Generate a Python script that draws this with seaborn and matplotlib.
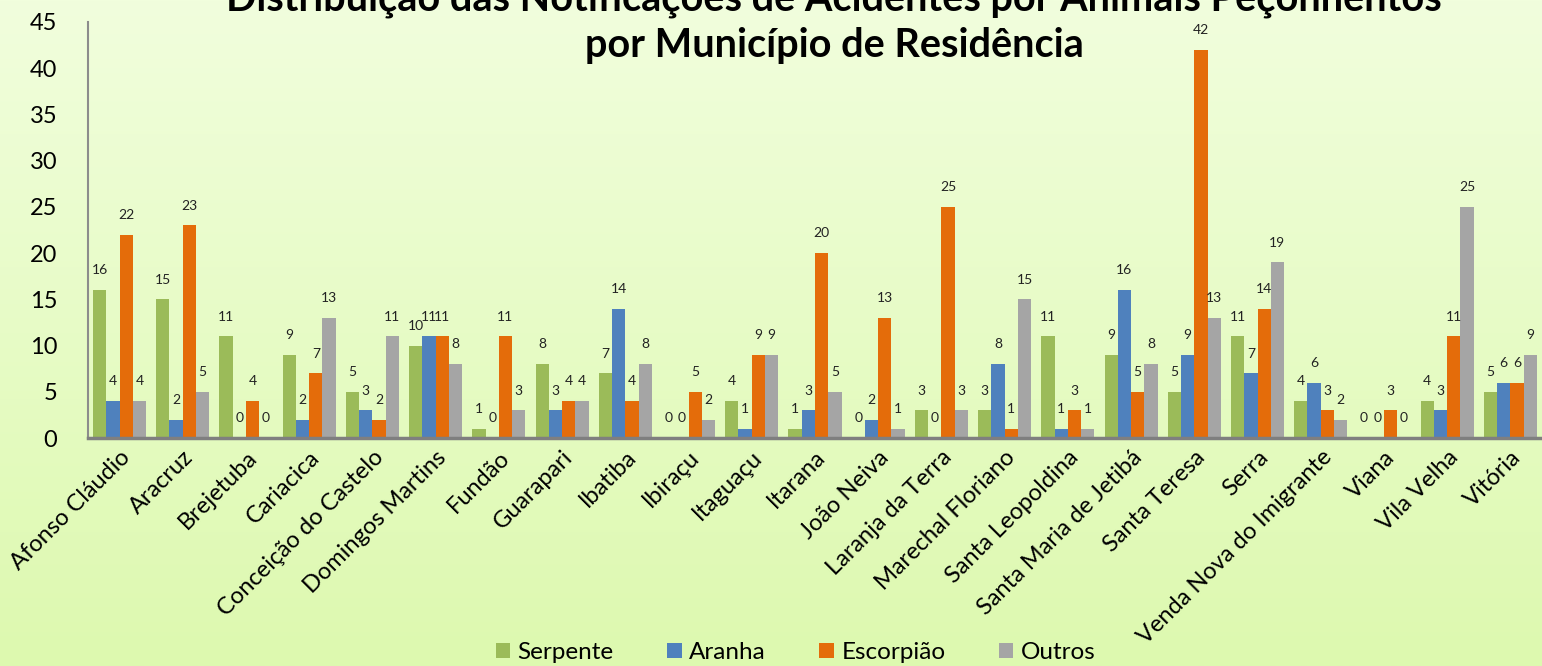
import numpy as np
import pandas as pd
import matplotlib
matplotlib.use('Agg')
import matplotlib.pyplot as plt
import seaborn as sns
from matplotlib.colors import LinearSegmentedColormap

# --- dados ---
MUNICIPIOS = ['Afonso Cláudio', 'Aracruz', 'Brejetuba', 'Cariacica', 'Conceição do Castelo',
              'Domingos Martins', 'Fundão', 'Guarapari', 'Ibatiba', 'Ibiraçu', 'Itaguaçu',
              'Itarana', 'João Neiva', 'Laranja da Terra', 'Marechal Floriano',
              'Santa Leopoldina', 'Santa Maria de Jetibá', 'Santa Teresa', 'Serra',
              'Venda Nova do Imigrante', 'Viana', 'Vila Velha', 'Vitória']
SERPENTE = [16, 15, 11, 9, 5, 10, 1, 8, 7, 0, 4, 1, 0, 3, 3, 11, 9, 5, 11, 4, 0, 4, 5]
ARANHA = [4, 2, 0, 2, 3, 11, 0, 3, 14, 0, 1, 3, 2, 0, 8, 1, 16, 9, 7, 6, 0, 3, 6]
ESCORPIAO = [22, 23, 4, 7, 2, 11, 11, 4, 4, 5, 9, 20, 13, 25, 1, 3, 5, 42, 14, 3, 3, 11, 6]
OUTROS = [4, 5, 0, 13, 11, 8, 3, 4, 8, 2, 9, 5, 1, 3, 15, 1, 8, 13, 19, 2, 0, 25, 9]
SERIES = ['Serpente', 'Aranha', 'Escorpião', 'Outros']
CORES = ['#9BBB59', '#4F81BD', '#E46C0A', '#A5A5A5']

TITULO = ['Distribuição das Notificações de Acidentes por Animais Peçonhentos',
          'por Município de Residência']

df = pd.DataFrame({'municipio': MUNICIPIOS, 'Serpente': SERPENTE, 'Aranha': ARANHA,
                   'Escorpião': ESCORPIAO, 'Outros': OUTROS})
df_long = df.melt(id_vars='municipio', value_vars=SERIES, var_name='tipo', value_name='n')

plt.rcParams['font.family'] = ['Lato', 'DejaVu Sans']

fig = plt.figure(figsize=(15.42, 6.66), dpi=100)

# fundo em degradê
bg = fig.add_axes([0, 0, 1, 1], zorder=-10)
cmap = LinearSegmentedColormap.from_list('bg', ['#F1FEDD', '#DDF9AF'])
bg.imshow(np.linspace(0, 1, 256).reshape(-1, 1), aspect='auto', cmap=cmap, extent=[0, 1, 0, 1])
bg.axis('off')

ax = fig.add_axes([0.057, 0.342, 0.943, 0.625])
ax.patch.set_alpha(0)

sns.barplot(data=df_long, x='municipio', y='n', hue='tipo', palette=CORES,
            width=0.84, saturation=1, ax=ax, legend=True)

for cont in ax.containers:
    ax.bar_label(cont, fontsize=10, padding=10, color='#222222')

ax.set_ylim(0, 45)
ax.set_xlim(-0.5, len(MUNICIPIOS) - 0.5)
ax.set_yticks(range(0, 46, 5))
ax.tick_params(axis='y', labelsize=17, length=0, pad=22)
ax.tick_params(axis='x', labelsize=17, length=0, pad=6)
ax.set_xticks(range(len(MUNICIPIOS)))
ax.set_xticklabels(MUNICIPIOS, rotation=45, ha='right', rotation_mode='anchor')
ax.set_xlabel('')
ax.set_ylabel('')

for s in ['top', 'right']:
    ax.spines[s].set_visible(False)
ax.spines['left'].set_color('#8C8C8C')
ax.spines['left'].set_linewidth(1.5)
ax.spines['bottom'].set_color('#7F7F7F')
ax.spines['bottom'].set_linewidth(2.5)

leg = ax.legend(loc='center', bbox_to_anchor=(0.516, 0.02), bbox_transform=fig.transFigure,
                ncol=4, frameon=False, fontsize=17.5, handlelength=0.6, handleheight=0.6,
                columnspacing=2.2, handletextpad=0.3)

fig.text(0.541, 1 - 10 / 666, TITULO[0], ha='center', va='baseline', fontsize=28.5, fontweight='bold')
fig.text(0.541, 1 - 57 / 666, TITULO[1], ha='center', va='baseline', fontsize=28.5, fontweight='bold')

fig.savefig('out.png', dpi=100)
